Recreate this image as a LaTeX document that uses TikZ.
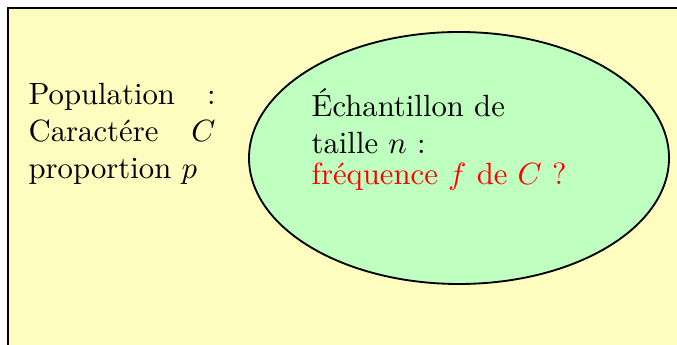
\documentclass[tikz,border=0pt]{standalone}
\usepackage{amsmath}
\usepackage{xcolor}
\usetikzlibrary{shapes.geometric, positioning}

\begin{document}
\begin{tikzpicture}[
    x=0.01145cm, y=-0.01145cm,
    popbox/.style={draw=black, semithick, fill=yellow!25},
    sampleell/.style={ellipse, draw=black, semithick, fill=green!25,
                      minimum width=420*0.01145cm, minimum height=252*0.01145cm,
                      inner sep=0pt},
    txt/.style={inner sep=0pt, anchor=north west, font=\normalsize}
  ]

    \clip (0,0) rectangle (677,345);
    \useasboundingbox (0,0) rectangle (677,345);

    % population
    \draw[popbox] (8,8) rectangle (720,380);
    \node[txt, text width=187*0.01145cm, align=left] (poptext) at (28,83)
      {Population\hfill:\\Caract\'ere\hfill$C$\\proportion $p$};

    % sample
    \node[sampleell] (sample) at (459,158) {};
    \node[txt, align=left] (sampletext) at (311,88)
      {\'Echantillon de\\taille $n$ :\\[-2pt]
       \textcolor{red}{fr\'equence $f$ de $C$ ?}};

  \end{tikzpicture}
\end{document}
